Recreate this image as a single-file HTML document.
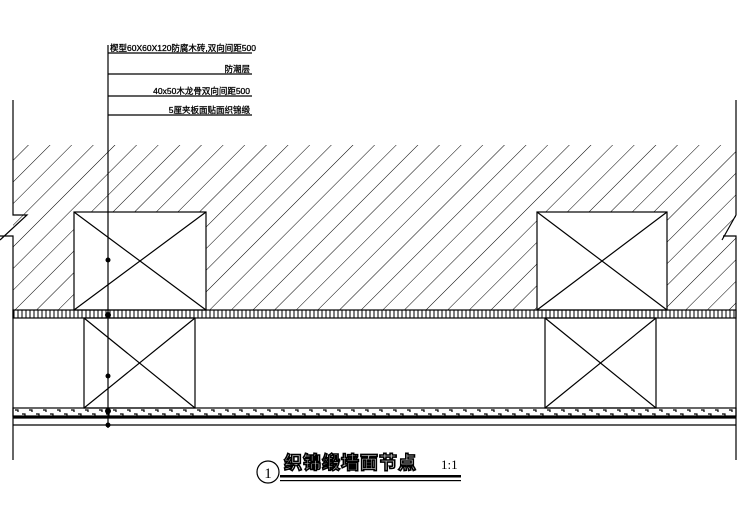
<!DOCTYPE html>
<html><head><style>body{margin:0;background:#fff}svg{display:block}</style></head><body>
<svg width="749" height="530" viewBox="0 0 749 530" xmlns="http://www.w3.org/2000/svg" font-family="Liberation Sans, Noto Sans CJK SC, sans-serif">
<defs>
<pattern id="h" patternUnits="userSpaceOnUse" width="15.3" height="22" patternTransform="rotate(45)">
<line x1="0" y1="0" x2="0" y2="22" stroke="#000" stroke-width="1"/>
</pattern>
<pattern id="v" patternUnits="userSpaceOnUse" width="4" height="8" x="13">
<line x1="1" y1="0" x2="1" y2="8" stroke="#000" stroke-width="1"/>
</pattern>
<pattern id="b" patternUnits="userSpaceOnUse" width="14" height="10" x="13" y="408">
<path d="M2 2h3v2M9 6h3v2" stroke="#000" fill="none" stroke-width="1.2"/>
</pattern>
<clipPath id="c"><path d="M13 145H736V310H13Z M74 212V310H206V212Z M537 212V310H667V212Z" clip-rule="evenodd"/></clipPath>
</defs>
<g clip-path="url(#c)"><rect x="0" y="140" width="749" height="175" fill="url(#h)"/></g>
<g stroke="#000" fill="none" stroke-width="1.2">
<path d="M13 100V215H27L0 240M0 236H13V460"/>
<path d="M736 100V215L722 240M723 236H736V460"/>
<rect x="74" y="212" width="132" height="98"/><path d="M74 212L206 310M206 212L74 310"/>
<rect x="537" y="212" width="130" height="98"/><path d="M537 212L667 310M667 212L537 310"/>
<rect x="13" y="310" width="723" height="8" fill="url(#v)"/>
<rect x="84" y="318" width="111" height="90"/><path d="M84 318L195 408M195 318L84 408"/>
<rect x="545" y="318" width="111" height="90"/><path d="M545 318L656 408M656 318L545 408"/>
<rect x="13" y="408" width="723" height="8" fill="url(#b)"/>
<path d="M13 418H736M13 425H736" />
<path d="M108 45V428" />
<path d="M108 53H252M108 74H252M108 96H252M108 115H252"/>
</g>
<rect x="13" y="416" width="723" height="2" fill="#000"/>
<g fill="#000"><circle cx="108" cy="260" r="2.5"/><circle cx="108" cy="315" r="3"/><circle cx="108" cy="376" r="2.5"/><circle cx="108" cy="411" r="3"/><circle cx="108" cy="425" r="2.5"/></g>
<g font-size="8.5" fill="#000" stroke="#000" stroke-width="0.3">
<text x="110" y="51">楔型60X60X120防腐木砖,双向间距500</text>
<text x="250" y="72" text-anchor="end">防潮层</text>
<text x="250" y="94" text-anchor="end">40x50木龙骨双向间距500</text>
<text x="250" y="113" text-anchor="end">5厘夹板面贴面织锦缎</text>
</g>
<circle cx="268" cy="472" r="11" fill="none" stroke="#000" stroke-width="1.2"/>
<text x="268" y="478" font-size="15" text-anchor="middle" font-family="Liberation Serif, serif">1</text>
<text x="284" y="469" font-size="18" font-weight="bold" fill="#fff" stroke="#000" stroke-width="1.6" letter-spacing="1" font-family="Noto Sans CJK SC, sans-serif">织锦缎墙面节点</text>
<text x="441" y="469" font-size="13" font-family="Liberation Serif, serif">1:1</text>
<rect x="280" y="475" width="181" height="2.5" fill="#000"/>
<rect x="280" y="480" width="181" height="1.2" fill="#000"/>
</svg>
</body></html>
